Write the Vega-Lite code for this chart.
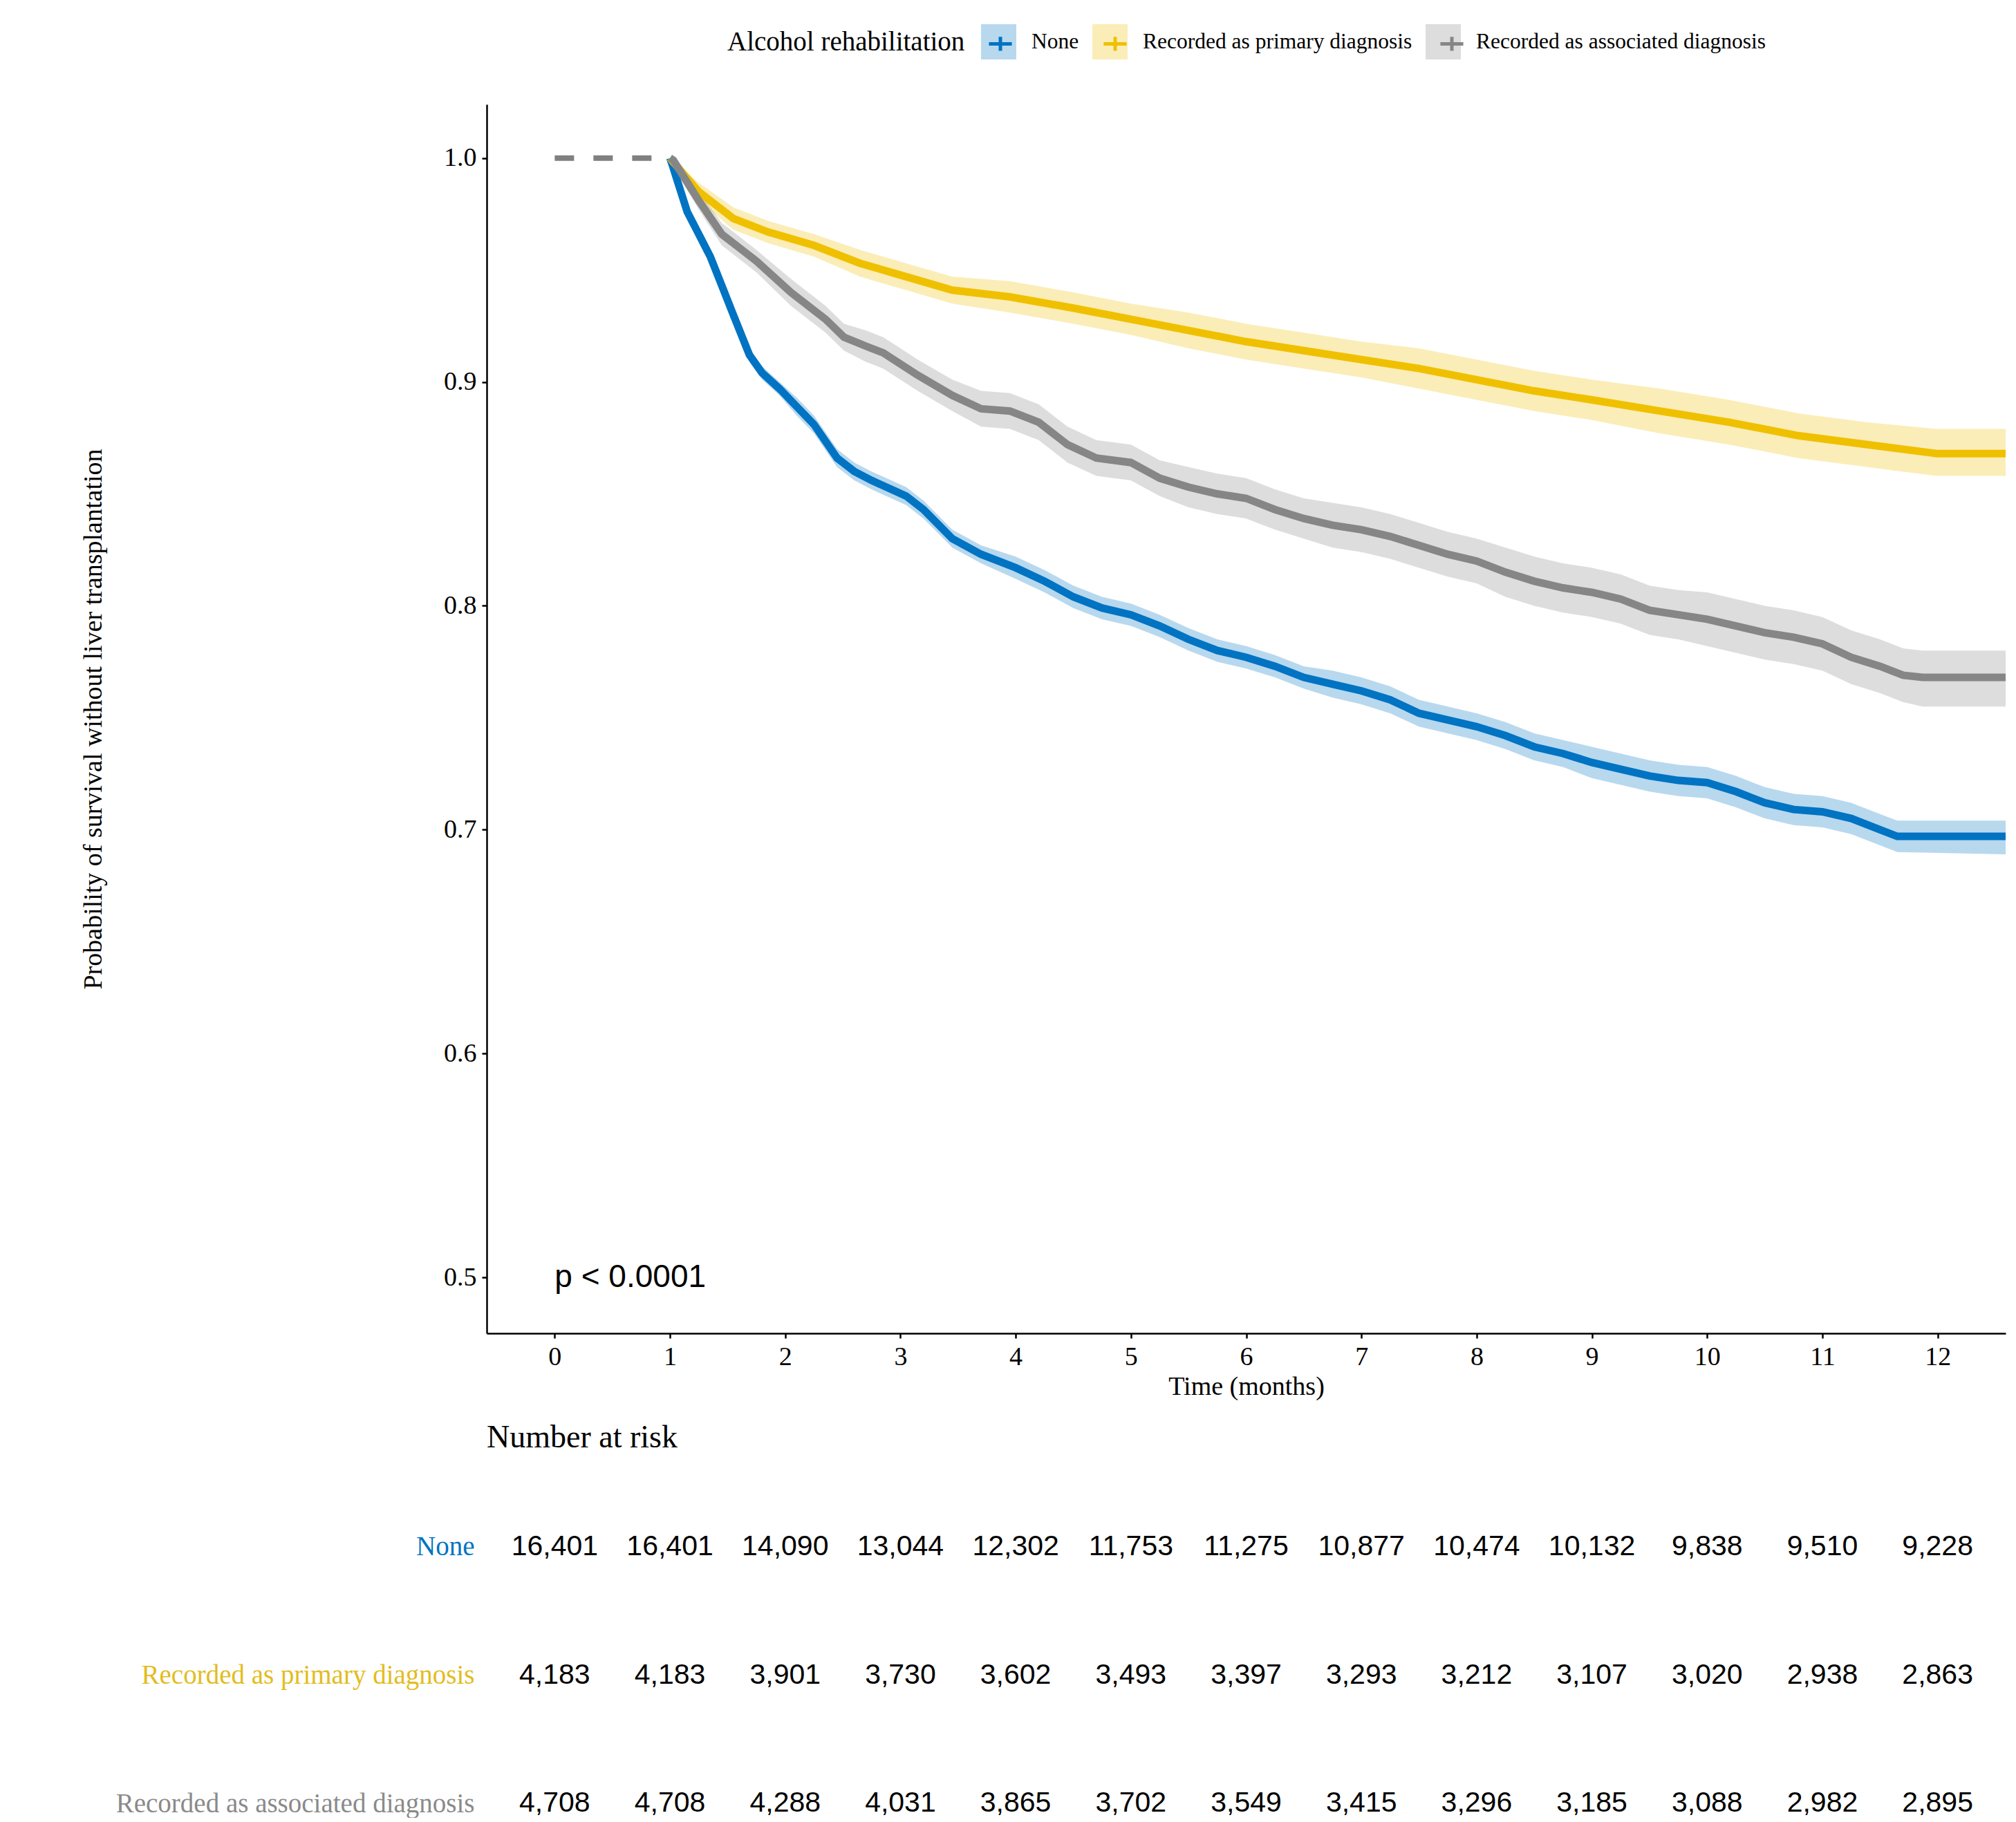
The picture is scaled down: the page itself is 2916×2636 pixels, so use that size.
{
  "$schema": "https://vega.github.io/schema/vega-lite/v6.json",
  "background": "white",
  "padding": {"left": 115, "top": 35, "right": 0, "bottom": 0},
  "spacing": 31,
  "config": {
    "font": "Liberation Serif",
    "view": {"stroke": null},
    "axis": {"grid": false, "domainColor": "black", "domainWidth": 2.5, "tickColor": "black", "tickWidth": 2.5, "tickSize": 7, "labelColor": "black", "titleColor": "black", "labelFont": "Liberation Serif", "titleFont": "Liberation Serif", "labelFontSize": 38, "titleFontSize": 38, "titleFontWeight": "normal", "labelLimit": 2000},
    "legend": {"labelFont": "Liberation Serif", "titleFont": "Liberation Serif", "titleFontWeight": "normal", "labelLimit": 2000, "titleLimit": 2000}
  },
  "datasets": {
    "curves": [
      {"group": "None", "time": 1.0, "surv": 1.0, "lower": 1.0, "upper": 1.0},
      {"group": "None", "time": 1.02, "surv": 0.997, "lower": 0.995, "upper": 0.999},
      {"group": "None", "time": 1.15, "surv": 0.976, "lower": 0.973, "upper": 0.979},
      {"group": "None", "time": 1.25, "surv": 0.966, "lower": 0.963, "upper": 0.969},
      {"group": "None", "time": 1.35, "surv": 0.956, "lower": 0.953, "upper": 0.959},
      {"group": "None", "time": 1.45, "surv": 0.943, "lower": 0.940, "upper": 0.946},
      {"group": "None", "time": 1.55, "surv": 0.930, "lower": 0.927, "upper": 0.933},
      {"group": "None", "time": 1.69, "surv": 0.912, "lower": 0.909, "upper": 0.915},
      {"group": "None", "time": 1.8, "surv": 0.904, "lower": 0.901, "upper": 0.907},
      {"group": "None", "time": 1.95, "surv": 0.897, "lower": 0.894, "upper": 0.900},
      {"group": "None", "time": 2.1, "surv": 0.889, "lower": 0.885, "upper": 0.893},
      {"group": "None", "time": 2.25, "surv": 0.881, "lower": 0.877, "upper": 0.885},
      {"group": "None", "time": 2.45, "surv": 0.866, "lower": 0.862, "upper": 0.870},
      {"group": "None", "time": 2.6, "surv": 0.860, "lower": 0.856, "upper": 0.864},
      {"group": "None", "time": 2.75, "surv": 0.856, "lower": 0.852, "upper": 0.860},
      {"group": "None", "time": 3.05, "surv": 0.849, "lower": 0.845, "upper": 0.853},
      {"group": "None", "time": 3.2, "surv": 0.843, "lower": 0.839, "upper": 0.847},
      {"group": "None", "time": 3.45, "surv": 0.830, "lower": 0.826, "upper": 0.834},
      {"group": "None", "time": 3.7, "surv": 0.823, "lower": 0.819, "upper": 0.827},
      {"group": "None", "time": 4.0, "surv": 0.817, "lower": 0.812, "upper": 0.822},
      {"group": "None", "time": 4.25, "surv": 0.811, "lower": 0.806, "upper": 0.816},
      {"group": "None", "time": 4.5, "surv": 0.804, "lower": 0.799, "upper": 0.809},
      {"group": "None", "time": 4.75, "surv": 0.799, "lower": 0.794, "upper": 0.804},
      {"group": "None", "time": 5.0, "surv": 0.796, "lower": 0.791, "upper": 0.801},
      {"group": "None", "time": 5.25, "surv": 0.791, "lower": 0.786, "upper": 0.796},
      {"group": "None", "time": 5.5, "surv": 0.785, "lower": 0.780, "upper": 0.790},
      {"group": "None", "time": 5.75, "surv": 0.780, "lower": 0.775, "upper": 0.785},
      {"group": "None", "time": 6.0, "surv": 0.777, "lower": 0.772, "upper": 0.782},
      {"group": "None", "time": 6.25, "surv": 0.773, "lower": 0.768, "upper": 0.778},
      {"group": "None", "time": 6.5, "surv": 0.768, "lower": 0.763, "upper": 0.773},
      {"group": "None", "time": 6.75, "surv": 0.765, "lower": 0.759, "upper": 0.771},
      {"group": "None", "time": 7.0, "surv": 0.762, "lower": 0.756, "upper": 0.768},
      {"group": "None", "time": 7.25, "surv": 0.758, "lower": 0.752, "upper": 0.764},
      {"group": "None", "time": 7.5, "surv": 0.752, "lower": 0.746, "upper": 0.758},
      {"group": "None", "time": 7.75, "surv": 0.749, "lower": 0.743, "upper": 0.755},
      {"group": "None", "time": 8.0, "surv": 0.746, "lower": 0.740, "upper": 0.752},
      {"group": "None", "time": 8.25, "surv": 0.742, "lower": 0.736, "upper": 0.748},
      {"group": "None", "time": 8.5, "surv": 0.737, "lower": 0.731, "upper": 0.743},
      {"group": "None", "time": 8.75, "surv": 0.734, "lower": 0.728, "upper": 0.740},
      {"group": "None", "time": 9.0, "surv": 0.730, "lower": 0.723, "upper": 0.737},
      {"group": "None", "time": 9.25, "surv": 0.727, "lower": 0.720, "upper": 0.734},
      {"group": "None", "time": 9.5, "surv": 0.724, "lower": 0.717, "upper": 0.731},
      {"group": "None", "time": 9.75, "surv": 0.722, "lower": 0.715, "upper": 0.729},
      {"group": "None", "time": 10.0, "surv": 0.721, "lower": 0.714, "upper": 0.728},
      {"group": "None", "time": 10.25, "surv": 0.717, "lower": 0.710, "upper": 0.724},
      {"group": "None", "time": 10.5, "surv": 0.712, "lower": 0.705, "upper": 0.719},
      {"group": "None", "time": 10.75, "surv": 0.709, "lower": 0.702, "upper": 0.716},
      {"group": "None", "time": 11.0, "surv": 0.708, "lower": 0.701, "upper": 0.715},
      {"group": "None", "time": 11.25, "surv": 0.705, "lower": 0.698, "upper": 0.712},
      {"group": "None", "time": 11.5, "surv": 0.700, "lower": 0.693, "upper": 0.707},
      {"group": "None", "time": 11.65, "surv": 0.697, "lower": 0.690, "upper": 0.704},
      {"group": "None", "time": 12.59, "surv": 0.697, "lower": 0.689, "upper": 0.704},

      {"group": "Recorded as primary diagnosis", "time": 1.0, "surv": 1.0, "lower": 1.0, "upper": 1.0},
      {"group": "Recorded as primary diagnosis", "time": 1.25, "surv": 0.985, "lower": 0.981, "upper": 0.989},
      {"group": "Recorded as primary diagnosis", "time": 1.55, "surv": 0.973, "lower": 0.968, "upper": 0.978},
      {"group": "Recorded as primary diagnosis", "time": 1.85, "surv": 0.967, "lower": 0.962, "upper": 0.972},
      {"group": "Recorded as primary diagnosis", "time": 2.25, "surv": 0.961, "lower": 0.956, "upper": 0.966},
      {"group": "Recorded as primary diagnosis", "time": 2.65, "surv": 0.953, "lower": 0.947, "upper": 0.959},
      {"group": "Recorded as primary diagnosis", "time": 3.05, "surv": 0.947, "lower": 0.941, "upper": 0.953},
      {"group": "Recorded as primary diagnosis", "time": 3.45, "surv": 0.941, "lower": 0.935, "upper": 0.947},
      {"group": "Recorded as primary diagnosis", "time": 3.95, "surv": 0.938, "lower": 0.931, "upper": 0.945},
      {"group": "Recorded as primary diagnosis", "time": 4.5, "surv": 0.933, "lower": 0.926, "upper": 0.940},
      {"group": "Recorded as primary diagnosis", "time": 5.0, "surv": 0.928, "lower": 0.921, "upper": 0.935},
      {"group": "Recorded as primary diagnosis", "time": 5.5, "surv": 0.923, "lower": 0.915, "upper": 0.931},
      {"group": "Recorded as primary diagnosis", "time": 6.0, "surv": 0.918, "lower": 0.910, "upper": 0.926},
      {"group": "Recorded as primary diagnosis", "time": 6.5, "surv": 0.914, "lower": 0.906, "upper": 0.922},
      {"group": "Recorded as primary diagnosis", "time": 7.0, "surv": 0.910, "lower": 0.902, "upper": 0.918},
      {"group": "Recorded as primary diagnosis", "time": 7.5, "surv": 0.906, "lower": 0.897, "upper": 0.915},
      {"group": "Recorded as primary diagnosis", "time": 8.0, "surv": 0.901, "lower": 0.892, "upper": 0.910},
      {"group": "Recorded as primary diagnosis", "time": 8.5, "surv": 0.896, "lower": 0.887, "upper": 0.905},
      {"group": "Recorded as primary diagnosis", "time": 9.0, "surv": 0.892, "lower": 0.883, "upper": 0.901},
      {"group": "Recorded as primary diagnosis", "time": 9.59, "surv": 0.887, "lower": 0.877, "upper": 0.897},
      {"group": "Recorded as primary diagnosis", "time": 10.19, "surv": 0.882, "lower": 0.872, "upper": 0.892},
      {"group": "Recorded as primary diagnosis", "time": 10.79, "surv": 0.876, "lower": 0.866, "upper": 0.886},
      {"group": "Recorded as primary diagnosis", "time": 11.39, "surv": 0.872, "lower": 0.862, "upper": 0.882},
      {"group": "Recorded as primary diagnosis", "time": 11.99, "surv": 0.868, "lower": 0.858, "upper": 0.879},
      {"group": "Recorded as primary diagnosis", "time": 12.59, "surv": 0.868, "lower": 0.858, "upper": 0.879},

      {"group": "Recorded as associated diagnosis", "time": 1.0, "surv": 1.0, "lower": 1.0, "upper": 1.0},
      {"group": "Recorded as associated diagnosis", "time": 1.03, "surv": 0.999, "lower": 0.996, "upper": 1.0},
      {"group": "Recorded as associated diagnosis", "time": 1.25, "surv": 0.981, "lower": 0.977, "upper": 0.985},
      {"group": "Recorded as associated diagnosis", "time": 1.45, "surv": 0.966, "lower": 0.961, "upper": 0.971},
      {"group": "Recorded as associated diagnosis", "time": 1.6, "surv": 0.960, "lower": 0.955, "upper": 0.965},
      {"group": "Recorded as associated diagnosis", "time": 1.75, "surv": 0.954, "lower": 0.949, "upper": 0.959},
      {"group": "Recorded as associated diagnosis", "time": 2.05, "surv": 0.940, "lower": 0.934, "upper": 0.946},
      {"group": "Recorded as associated diagnosis", "time": 2.35, "surv": 0.928, "lower": 0.922, "upper": 0.934},
      {"group": "Recorded as associated diagnosis", "time": 2.51, "surv": 0.920, "lower": 0.914, "upper": 0.926},
      {"group": "Recorded as associated diagnosis", "time": 2.7, "surv": 0.916, "lower": 0.909, "upper": 0.923},
      {"group": "Recorded as associated diagnosis", "time": 2.85, "surv": 0.913, "lower": 0.906, "upper": 0.920},
      {"group": "Recorded as associated diagnosis", "time": 3.15, "surv": 0.903, "lower": 0.896, "upper": 0.910},
      {"group": "Recorded as associated diagnosis", "time": 3.45, "surv": 0.894, "lower": 0.887, "upper": 0.901},
      {"group": "Recorded as associated diagnosis", "time": 3.7, "surv": 0.888, "lower": 0.880, "upper": 0.896},
      {"group": "Recorded as associated diagnosis", "time": 3.95, "surv": 0.887, "lower": 0.879, "upper": 0.895},
      {"group": "Recorded as associated diagnosis", "time": 4.2, "surv": 0.882, "lower": 0.874, "upper": 0.890},
      {"group": "Recorded as associated diagnosis", "time": 4.45, "surv": 0.872, "lower": 0.864, "upper": 0.880},
      {"group": "Recorded as associated diagnosis", "time": 4.7, "surv": 0.866, "lower": 0.858, "upper": 0.874},
      {"group": "Recorded as associated diagnosis", "time": 5.0, "surv": 0.864, "lower": 0.856, "upper": 0.872},
      {"group": "Recorded as associated diagnosis", "time": 5.25, "surv": 0.857, "lower": 0.849, "upper": 0.865},
      {"group": "Recorded as associated diagnosis", "time": 5.5, "surv": 0.853, "lower": 0.844, "upper": 0.862},
      {"group": "Recorded as associated diagnosis", "time": 5.75, "surv": 0.850, "lower": 0.841, "upper": 0.859},
      {"group": "Recorded as associated diagnosis", "time": 6.0, "surv": 0.848, "lower": 0.839, "upper": 0.857},
      {"group": "Recorded as associated diagnosis", "time": 6.25, "surv": 0.843, "lower": 0.834, "upper": 0.852},
      {"group": "Recorded as associated diagnosis", "time": 6.5, "surv": 0.839, "lower": 0.830, "upper": 0.848},
      {"group": "Recorded as associated diagnosis", "time": 6.75, "surv": 0.836, "lower": 0.826, "upper": 0.846},
      {"group": "Recorded as associated diagnosis", "time": 7.0, "surv": 0.834, "lower": 0.824, "upper": 0.844},
      {"group": "Recorded as associated diagnosis", "time": 7.25, "surv": 0.831, "lower": 0.821, "upper": 0.841},
      {"group": "Recorded as associated diagnosis", "time": 7.5, "surv": 0.827, "lower": 0.817, "upper": 0.837},
      {"group": "Recorded as associated diagnosis", "time": 7.75, "surv": 0.823, "lower": 0.813, "upper": 0.833},
      {"group": "Recorded as associated diagnosis", "time": 8.0, "surv": 0.820, "lower": 0.810, "upper": 0.830},
      {"group": "Recorded as associated diagnosis", "time": 8.25, "surv": 0.815, "lower": 0.804, "upper": 0.826},
      {"group": "Recorded as associated diagnosis", "time": 8.5, "surv": 0.811, "lower": 0.800, "upper": 0.822},
      {"group": "Recorded as associated diagnosis", "time": 8.75, "surv": 0.808, "lower": 0.797, "upper": 0.819},
      {"group": "Recorded as associated diagnosis", "time": 9.0, "surv": 0.806, "lower": 0.795, "upper": 0.817},
      {"group": "Recorded as associated diagnosis", "time": 9.25, "surv": 0.803, "lower": 0.792, "upper": 0.814},
      {"group": "Recorded as associated diagnosis", "time": 9.5, "surv": 0.798, "lower": 0.787, "upper": 0.809},
      {"group": "Recorded as associated diagnosis", "time": 9.75, "surv": 0.796, "lower": 0.785, "upper": 0.807},
      {"group": "Recorded as associated diagnosis", "time": 10.0, "surv": 0.794, "lower": 0.782, "upper": 0.806},
      {"group": "Recorded as associated diagnosis", "time": 10.25, "surv": 0.791, "lower": 0.779, "upper": 0.803},
      {"group": "Recorded as associated diagnosis", "time": 10.5, "surv": 0.788, "lower": 0.776, "upper": 0.800},
      {"group": "Recorded as associated diagnosis", "time": 10.75, "surv": 0.786, "lower": 0.774, "upper": 0.798},
      {"group": "Recorded as associated diagnosis", "time": 11.0, "surv": 0.783, "lower": 0.771, "upper": 0.795},
      {"group": "Recorded as associated diagnosis", "time": 11.25, "surv": 0.777, "lower": 0.765, "upper": 0.789},
      {"group": "Recorded as associated diagnosis", "time": 11.5, "surv": 0.773, "lower": 0.761, "upper": 0.785},
      {"group": "Recorded as associated diagnosis", "time": 11.7, "surv": 0.769, "lower": 0.757, "upper": 0.781},
      {"group": "Recorded as associated diagnosis", "time": 11.87, "surv": 0.768, "lower": 0.755, "upper": 0.780},
      {"group": "Recorded as associated diagnosis", "time": 12.59, "surv": 0.768, "lower": 0.755, "upper": 0.780}
    ],
    "landmark": [
      {"time": 0, "surv": 1.0},
      {"time": 1, "surv": 1.0}
    ],
    "pval": [
      {"time": 0, "surv": 0.5, "label": "p < 0.0001"}
    ],
    "risk": [
      {"group": "None", "time": 0, "n": 16401},
      {"group": "None", "time": 1, "n": 16401},
      {"group": "None", "time": 2, "n": 14090},
      {"group": "None", "time": 3, "n": 13044},
      {"group": "None", "time": 4, "n": 12302},
      {"group": "None", "time": 5, "n": 11753},
      {"group": "None", "time": 6, "n": 11275},
      {"group": "None", "time": 7, "n": 10877},
      {"group": "None", "time": 8, "n": 10474},
      {"group": "None", "time": 9, "n": 10132},
      {"group": "None", "time": 10, "n": 9838},
      {"group": "None", "time": 11, "n": 9510},
      {"group": "None", "time": 12, "n": 9228},
      {"group": "Recorded as primary diagnosis", "time": 0, "n": 4183},
      {"group": "Recorded as primary diagnosis", "time": 1, "n": 4183},
      {"group": "Recorded as primary diagnosis", "time": 2, "n": 3901},
      {"group": "Recorded as primary diagnosis", "time": 3, "n": 3730},
      {"group": "Recorded as primary diagnosis", "time": 4, "n": 3602},
      {"group": "Recorded as primary diagnosis", "time": 5, "n": 3493},
      {"group": "Recorded as primary diagnosis", "time": 6, "n": 3397},
      {"group": "Recorded as primary diagnosis", "time": 7, "n": 3293},
      {"group": "Recorded as primary diagnosis", "time": 8, "n": 3212},
      {"group": "Recorded as primary diagnosis", "time": 9, "n": 3107},
      {"group": "Recorded as primary diagnosis", "time": 10, "n": 3020},
      {"group": "Recorded as primary diagnosis", "time": 11, "n": 2938},
      {"group": "Recorded as primary diagnosis", "time": 12, "n": 2863},
      {"group": "Recorded as associated diagnosis", "time": 0, "n": 4708},
      {"group": "Recorded as associated diagnosis", "time": 1, "n": 4708},
      {"group": "Recorded as associated diagnosis", "time": 2, "n": 4288},
      {"group": "Recorded as associated diagnosis", "time": 3, "n": 4031},
      {"group": "Recorded as associated diagnosis", "time": 4, "n": 3865},
      {"group": "Recorded as associated diagnosis", "time": 5, "n": 3702},
      {"group": "Recorded as associated diagnosis", "time": 6, "n": 3549},
      {"group": "Recorded as associated diagnosis", "time": 7, "n": 3415},
      {"group": "Recorded as associated diagnosis", "time": 8, "n": 3296},
      {"group": "Recorded as associated diagnosis", "time": 9, "n": 3185},
      {"group": "Recorded as associated diagnosis", "time": 10, "n": 3088},
      {"group": "Recorded as associated diagnosis", "time": 11, "n": 2982},
      {"group": "Recorded as associated diagnosis", "time": 12, "n": 2895}
    ]
  },
  "vconcat": [
    {
      "width": 2197,
      "height": 1778,
      "layer": [
        {
          "data": {"name": "curves"},
          "mark": {"type": "area", "opacity": 0.28},
          "encoding": {
            "x": {"field": "time", "type": "quantitative", "scale": {"domain": [-0.59, 12.59], "nice": false, "zero": false},
                  "axis": {"values": [0,1,2,3,4,5,6,7,8,9,10,11,12], "format": "d", "title": "Time (months)", "labelPadding": 8, "titlePadding": 5}},
            "y": {"field": "lower", "type": "quantitative", "scale": {"domain": [0.475, 1.024], "nice": false, "zero": false},
                  "axis": {"values": [0.5,0.6,0.7,0.8,0.9,1.0], "format": ".1f", "title": "Probability of survival without liver transplantation", "labelPadding": 8, "titleX": -569, "titleY": 889, "titleAngle": -90, "titleAlign": "center", "titleBaseline": "middle"}},
            "y2": {"field": "upper"},
            "fill": {"field": "group", "type": "nominal",
                     "sort": ["None", "Recorded as primary diagnosis", "Recorded as associated diagnosis"],
                     "scale": {"range": ["#0073C2", "#EFC000", "#868686"]},
                     "legend": {"title": "Alcohol rehabilitation", "orient": "none", "legendX": 348, "legendY": -116, "direction": "horizontal", "titleOrient": "left", "titleFontSize": 39, "titlePadding": 23, "labelFontSize": 31.5, "labelOffset": 22, "columnPadding": 19, "symbolType": "square", "symbolSize": 2601, "symbolOpacity": 0.28, "symbolStrokeWidth": 0, "labelColor": "black", "titleColor": "black"}}
          }
        },
        {
          "data": {"name": "curves"},
          "mark": {"type": "line", "strokeWidth": 11},
          "encoding": {
            "x": {"field": "time", "type": "quantitative"},
            "y": {"field": "surv", "type": "quantitative"},
            "stroke": {"field": "group", "type": "nominal",
                       "scale": {"domain": ["None", "Recorded as primary diagnosis", "Recorded as associated diagnosis"], "range": ["#0073C2", "#EFC000", "#868686"]},
                       "legend": {"title": "Alcohol rehabilitation", "orient": "none", "legendX": 348, "legendY": -116, "direction": "horizontal", "titleOrient": "left", "titleFontSize": 39, "titlePadding": 23, "labelFontSize": 31.5, "labelOffset": 22, "columnPadding": 19, "symbolType": "M-0.65,0H0.65M0,-0.4V0.4", "symbolSize": 2601, "symbolStrokeWidth": 5, "labelOpacity": 0, "titleOpacity": 0}}
          }
        },
        {
          "data": {"name": "landmark"},
          "mark": {"type": "line", "color": "#808080", "strokeWidth": 8, "strokeDash": [28, 28]},
          "encoding": {
            "x": {"field": "time", "type": "quantitative"},
            "y": {"field": "surv", "type": "quantitative"}
          }
        },
        {
          "data": {"name": "pval"},
          "mark": {"type": "text", "font": "Liberation Sans", "fontSize": 46, "align": "left", "baseline": "middle", "color": "black"},
          "encoding": {
            "x": {"field": "time", "type": "quantitative"},
            "y": {"field": "surv", "type": "quantitative"},
            "text": {"field": "label"}
          }
        }
      ]
    },
    {
      "width": 2197,
      "height": 409,
      "title": {"text": "Number at risk", "anchor": "start", "frame": "group", "font": "Liberation Serif", "fontSize": 46, "fontWeight": "normal", "color": "black", "offset": 113},
      "data": {"name": "risk"},
      "mark": {"type": "text", "font": "Liberation Sans", "fontSize": 41, "color": "black", "baseline": "middle"},
      "encoding": {
        "x": {"field": "time", "type": "quantitative", "scale": {"domain": [-0.59, 12.59], "nice": false, "zero": false}, "axis": null},
        "y": {"field": "group", "type": "nominal", "sort": ["None", "Recorded as primary diagnosis", "Recorded as associated diagnosis"],
              "scale": {"type": "point", "padding": 0.1},
              "axis": {"title": null, "domain": false, "ticks": false, "labelFontSize": 39, "labelPadding": 18, "labelLimit": 2000,
                       "labelColor": {"condition": [{"test": "datum.value === 'None'", "value": "#0073C2"}, {"test": "datum.value === 'Recorded as primary diagnosis'", "value": "#E3BC1E"}], "value": "#8A8A8A"}}},
        "text": {"field": "n", "type": "quantitative", "format": ","}
      }
    }
  ]
}
